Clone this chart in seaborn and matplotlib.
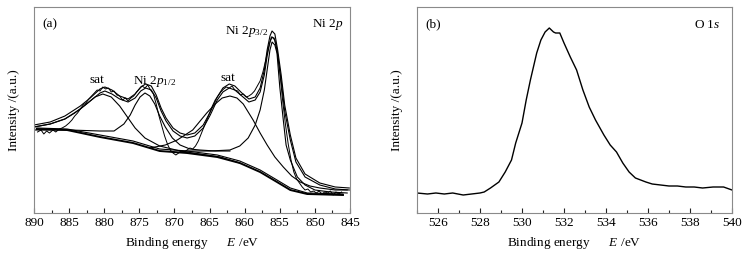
import matplotlib
matplotlib.use('Agg')
import matplotlib.pyplot as plt
import pandas as pd
import seaborn as sns
from matplotlib.ticker import MultipleLocator

# ---- (a) Ni 2p: binding energy (eV) and intensity (a.u.) ----
raw_e = [889.5, 889.0, 888.6, 888.2, 887.8, 887.3, 886.9, 886.4, 886.0, 885.5, 885.0, 884.6, 884.2,
         883.8, 883.4, 883.0, 882.6, 882.2, 881.8, 881.4, 881.0, 880.6, 880.2, 879.8, 879.4, 879.0,
         878.6, 878.2, 877.8, 877.4, 877.0, 876.6, 876.2, 875.8, 875.4, 875.0, 874.6, 874.2, 873.8,
         873.4, 873.0, 872.6, 872.2, 871.8, 871.4, 871.0, 870.6, 870.2, 869.8, 869.4, 869.0, 868.6,
         868.2, 867.8, 867.4, 867.0, 866.6, 866.2, 865.8, 865.4, 865.0, 864.6, 864.2, 863.8, 863.4,
         863.0, 862.6, 862.2, 861.8, 861.4, 861.0, 860.6, 860.2, 859.8, 859.4, 859.0, 858.6, 858.2,
         857.8, 857.4, 857.0, 856.6, 856.2, 855.8, 855.4, 855.0, 854.6, 854.2, 853.8, 853.4, 853.0,
         852.6, 852.2, 851.8, 851.4, 851.0, 850.6, 850.2, 849.8, 849.4, 849.0, 848.6, 848.2, 847.8,
         847.4, 847.0, 846.6, 846.2]
raw_i = [80, 82, 78, 81, 79, 82, 80, 83, 84, 86, 89, 92, 96,
         99, 103, 107, 109, 113, 116, 119, 122, 121, 125, 123, 124, 120,
         121, 117, 116, 112, 114, 111, 114, 116, 120, 123, 126, 124, 127,
         122, 118, 108, 96, 86, 76, 68, 62, 59, 57, 59, 61, 60,
         62, 64, 63, 66, 71, 78, 85, 92, 99, 106, 112, 116, 120,
         123, 125, 124, 126, 122, 121, 117, 118, 115, 116, 118, 121, 126,
         131, 140, 152, 165, 175, 174, 163, 140, 112, 88, 68, 52, 40,
         33, 29, 25, 22, 23, 20, 21, 19, 21, 18, 20, 19, 21,
         17, 20, 18, 20]

env_e = [890.0, 887.7, 885.6, 883.4, 882.0, 880.6, 879.9, 878.9, 877.8, 876.6, 875.6, 874.8, 874.1,
         873.3, 872.6, 871.9, 871.2, 870.2, 869.2, 868.2, 867.1, 865.9, 864.9, 863.9, 863.1, 862.2,
         861.4, 860.4, 859.4, 858.5, 857.8, 857.2, 856.8, 856.4, 856.1, 855.7, 855.3, 854.8, 854.3,
         853.5, 852.7, 851.4, 849.3, 847.1, 845.1]
env1_i = [87, 90, 96, 106, 114, 123, 125, 122, 116, 113, 118, 125, 128,
          126, 117, 104, 94, 84, 79, 77, 79, 87, 100, 115, 124, 128,
          126, 119, 113, 115, 124, 142, 162, 176, 181, 178, 162, 137, 107,
          77, 54, 38, 29, 25, 24]
env2_i = [85, 88, 93, 103, 111, 119, 121, 118, 113, 110, 114, 121, 124,
          122, 114, 101, 91, 81, 76, 74, 76, 84, 97, 112, 120, 124,
          122, 116, 110, 112, 120, 137, 156, 170, 175, 172, 157, 131, 101,
          72, 50, 35, 27, 23, 22]

sat1_e = [890.0, 887.7, 885.6, 884.2, 882.7, 881.3, 880.2, 879.0, 877.8, 876.6, 875.6, 874.2, 872.1,
          869.2, 866.4, 863.5, 860.7]
sat1_i = [85, 88, 93, 99, 107, 115, 118, 115, 106, 94, 84, 74, 66, 61, 58, 55, 49]

p12_e = [890.0, 884.9, 880.6, 878.6, 877.2, 876.3, 875.6, 874.9, 874.2, 873.5, 872.8, 872.1, 871.3,
         870.3, 869.2, 867.8, 866.4, 864.2, 862.1]
p12_i = [82, 82, 81, 81, 88, 97, 107, 115, 119, 116, 108, 96, 85, 74, 67, 63, 62, 61, 61]

sat2_e = [873.5, 871.3, 869.6, 867.4, 865.4, 864.2, 863.2, 862.1, 861.1, 860.2, 858.8, 857.8, 856.8,
          855.7, 854.5, 853.3, 852.1, 850.7, 849.3, 847.1, 845.4]
sat2_i = [64, 67, 72, 82, 99, 108, 114, 116, 114, 108, 92, 79, 67, 55, 45, 36, 30, 26, 24, 22, 22]

p32_e = [869.2, 864.9, 862.1, 860.7, 859.5, 858.5, 857.8, 857.2, 856.8, 856.4, 856.1, 855.7, 855.4,
         855.0, 854.5, 854.1, 853.5, 852.5, 851.4, 850.0, 847.8, 845.4]
p32_i = [61, 61, 62, 66, 74, 87, 102, 122, 142, 162, 170, 167, 159, 125, 92, 67, 52, 35, 27, 22, 20, 19]

bg_e = [889.6, 885.3, 880.6, 875.9, 872.1, 868.2, 863.9, 860.7, 857.8, 855.4, 853.5, 851.1, 846.0]
bg1_i = [83, 82, 75, 69, 61, 59, 55, 49, 40, 30, 22, 18, 17]
bg2_i = [84, 83, 77, 71, 63, 61, 57, 51, 42, 32, 24, 19, 18]

# ---- (b) O 1s ----
o1s_e = [525.0, 525.5, 525.9, 526.3, 526.7, 527.2, 527.6, 528.0, 528.2, 528.5, 528.9, 529.2, 529.5,
         529.7, 530.0, 530.2, 530.4, 530.7, 530.9, 531.1, 531.3, 531.5, 531.6, 531.8, 532.0, 532.3,
         532.6, 532.9, 533.2, 533.5, 533.9, 534.2, 534.5, 534.8, 535.1, 535.4, 535.9, 536.2, 536.6,
         537.0, 537.4, 537.8, 538.2, 538.6, 539.1, 539.6, 540.0]
o1s_i = [19, 18, 19, 18, 19, 17, 18, 19, 20, 24, 30, 40, 52,
         69, 89, 112, 132, 159, 172, 180, 184, 180, 179, 179, 169, 155,
         142, 122, 105, 92, 77, 67, 60, 49, 40, 34, 30, 28, 27,
         26, 26, 25, 25, 24, 25, 25, 22]

plt.rcParams['font.family'] = ['Liberation Serif', 'DejaVu Serif']
plt.rcParams['mathtext.fontset'] = 'custom'
plt.rcParams['mathtext.rm'] = 'Liberation Serif'
plt.rcParams['mathtext.it'] = 'Liberation Serif:italic'

fig = plt.figure(figsize=(7.49, 2.57), dpi=100)
ax1 = fig.add_axes([34 / 749, 44 / 257, 316 / 749, 206 / 257])
ax2 = fig.add_axes([417 / 749, 44 / 257, 315 / 749, 206 / 257])

lw = 0.8
sns.lineplot(x=raw_e, y=raw_i, ax=ax1, color='black', lw=0.7, sort=False, estimator=None)
for ys in [env1_i, env2_i]:
    sns.lineplot(x=env_e, y=ys, ax=ax1, color='black', lw=lw, sort=False, estimator=None)
for xs, ys in [(sat1_e, sat1_i), (p12_e, p12_i), (sat2_e, sat2_i), (p32_e, p32_i)]:
    sns.lineplot(x=xs, y=ys, ax=ax1, color='black', lw=lw, sort=False, estimator=None)
sns.lineplot(x=bg_e, y=bg1_i, ax=ax1, color='black', lw=1.4, sort=False, estimator=None)
sns.lineplot(x=bg_e, y=bg2_i, ax=ax1, color='black', lw=0.8, sort=False, estimator=None)

sns.lineplot(x=o1s_e, y=o1s_i, ax=ax2, color='black', lw=1.0, sort=False, estimator=None)

ax1.set_xlim(890, 845)
ax2.set_xlim(525, 540)
fs = 9.5
for ax in [ax1, ax2]:
    ax.set_ylim(-1, 205)
    ax.set_yticks([])
    ax.set_ylabel('Intensity /(a.u.)', fontsize=fs, labelpad=10)
    ax.set_xlabel('Binding energy      $E$ /eV', fontsize=fs, labelpad=4)
    ax.tick_params(axis='x', which='both', direction='in', labelsize=fs, pad=3, color='#222222')
    ax.tick_params(axis='x', which='major', length=3.6, width=0.8)
    ax.tick_params(axis='x', which='minor', length=2.0, width=0.8)
    for s in ax.spines.values():
        s.set_color('#8a8a8a')
        s.set_linewidth(0.8)

ax1.xaxis.set_major_locator(MultipleLocator(5))
ax1.xaxis.set_minor_locator(MultipleLocator(2.5))
ax2.set_xticks([526, 528, 530, 532, 534, 536, 538, 540])
ax2.xaxis.set_minor_locator(MultipleLocator(1))

ax1.text(0.028, 0.915, '(a)', transform=ax1.transAxes, fontsize=fs, va='center')
ax1.text(0.978, 0.915, 'Ni 2$p$', transform=ax1.transAxes, fontsize=fs, va='center', ha='right')
ax1.text(881.0, 129, 'sat', fontsize=fs, ha='center')
ax1.text(872.8, 128, 'Ni 2$p_{1/2}$', fontsize=fs, ha='center')
ax1.text(862.4, 131, 'sat', fontsize=fs, ha='center')
ax1.text(859.7, 178, 'Ni 2$p_{3/2}$', fontsize=fs, ha='center')

ax2.text(0.025, 0.915, '(b)', transform=ax2.transAxes, fontsize=fs, va='center')
ax2.text(0.962, 0.915, 'O 1$s$', transform=ax2.transAxes, fontsize=fs, va='center', ha='right')

fig.savefig('out.png', dpi=100)
